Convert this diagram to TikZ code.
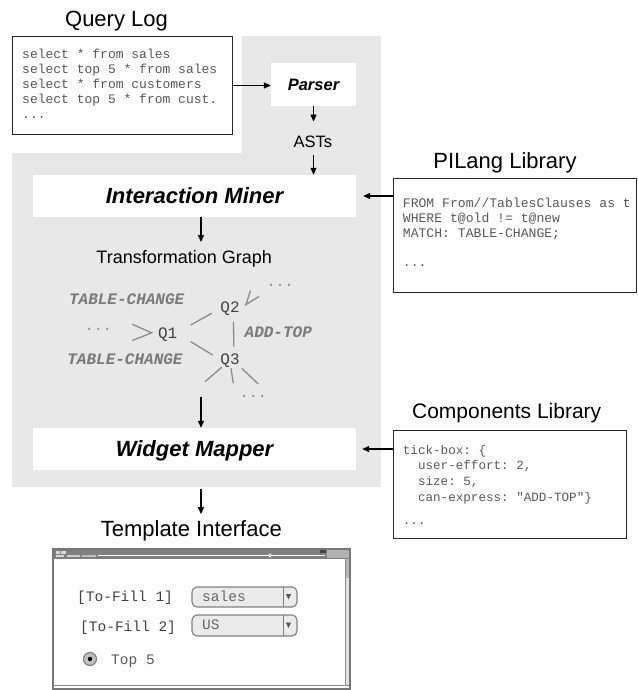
\documentclass[tikz,border=0pt]{standalone}
\usepackage{fontspec}
\setmainfont{Liberation Sans}
\setmonofont{Liberation Mono}
\usetikzlibrary{arrows.meta}
\definecolor{bg}{HTML}{E8E8E8}
\definecolor{codec}{HTML}{585858}
\definecolor{edgec}{HTML}{8C8C8C}
\definecolor{lblc}{HTML}{7A7A7A}
\definecolor{qc}{HTML}{404040}
\definecolor{winc}{HTML}{777777}
\begin{document}
\begin{tikzpicture}[x=1pt,y=-1pt,
  arr/.style={line width=1.3pt,-{Triangle[length=7pt,width=6pt]}},
  title/.style={font=\fontsize{22}{26}\selectfont, inner sep=0pt, anchor=base},
  stage/.style={fill=white, inner sep=0pt, text depth=0pt, font=\fontsize{22}{26}\selectfont\bfseries\itshape},
  codebox/.style={draw=black!85, line width=1pt, fill=white, inner sep=0pt},
  codeA/.style={font=\fontsize{13}{15}\selectfont\ttfamily, text=codec, inner sep=0pt, anchor=base west},
  codeP/.style={font=\fontsize{13.1}{15}\selectfont\ttfamily, text=codec, inner sep=0pt, anchor=base west},
  codeB/.style={font=\fontsize{12.6}{15}\selectfont\ttfamily, text=codec, inner sep=0pt, anchor=base west},
  glbl/.style={font=\fontsize{16}{18}\selectfont\ttfamily\bfseries\itshape, text=lblc, inner sep=0pt, anchor=base},
  gq/.style={font=\fontsize{16}{18}\selectfont\ttfamily, text=qc, inner sep=0pt, anchor=base},
  gdots/.style={font=\fontsize{15}{18}\selectfont\ttfamily, text=edgec, inner sep=0pt, anchor=base},
  gedge/.style={draw=edgec, line width=1.3pt},
  wtext/.style={font=\fontsize{14.5}{17}\selectfont\ttfamily, inner sep=0pt, anchor=base west},
  drop/.style={draw=black!50, fill=black!8, line width=1.1pt, rounded corners=5pt}
]
\useasboundingbox (0,0) rectangle (637,690);

% grey processing area
\fill[bg] (242,36) -- (381,36) -- (381,487) -- (12,487) -- (12,153) -- (242,153) -- cycle;

% titles
\node[title] (qltitle) at (116.5,26.7) {Query Log};
\node[title] (piltitle) at (505,168.3) {PILang Library};
\node[title, font=\fontsize{21}{25}\selectfont] (comptitle) at (506.7,418.3) {Components Library};
\node[title] (ti) at (191.3,536.7) {Template Interface};
\node[title, font=\fontsize{18}{22}\selectfont] (tg) at (184.2,263.3) {Transformation Graph};
\node[title, font=\fontsize{16.5}{20}\selectfont] (asts) at (312.8,147.3) {ASTs};

% query log box
\node[codebox, minimum width=220pt, minimum height=97pt] (qlbox) at (122,85.5) {};
\node[codeA] (ql1) at (22,58.5) {select * from sales};
\node[codeA] (ql2) at (22,73.8) {select top 5 * from sales};
\node[codeA] (ql3) at (22,89.0) {select * from customers};
\node[codeA] (ql4) at (22,104.0) {select top 5 * from cust.};
\node[codeA] (ql5) at (22,118.5) {...};

% PILang box
\node[codebox, minimum width=243.4pt, minimum height=114pt] (pil) at (514.7,235) {};
\node[codeP] (pil1) at (402.7,207.5) {FROM From//TablesClauses as t};
\node[codeP] (pil2) at (402.7,222.5) {WHERE t@old != t@new};
\node[codeP] (pil3) at (402.7,237.5) {MATCH: TABLE-CHANGE;};
\node[codeP] (pil4) at (402.7,266.5) {...};

% Components box
\node[codebox, minimum width=233pt, minimum height=108pt] (comp) at (509.5,484) {};
\node[codeB] (c1) at (402.7,454) {tick-box: \{};
\node[codeB] (c2) at (402.7,469.8) {\ \ user-effort: 2,};
\node[codeB] (c3) at (402.7,485.5) {\ \ size: 5,};
\node[codeB] (c4) at (402.7,501.2) {\ \ can-express: "ADD-TOP"\}};
\node[codeB] (c5) at (402.7,524) {...};

% stages
\node[stage, minimum width=85pt, minimum height=43pt, font=\fontsize{16.5}{20}\selectfont\bfseries\itshape] (parser) at (313.5,84.5) {Parser};
\node[stage, minimum width=323pt, minimum height=42pt] (im) at (194.5,196) {Interaction Miner};
\node[stage, minimum width=323pt, minimum height=42pt] (wm) at (194.5,449) {Widget Mapper};

% transformation graph
\node[glbl] (tc1) at (126.7,304) {TABLE-CHANGE};
\node[glbl] (tc2) at (125,364) {TABLE-CHANGE};
\node[glbl] (addtop) at (278.3,337.3) {ADD-TOP};
\node[gq] (q1) at (167.7,338.3) {Q1};
\node[gq] (q2) at (230,312.5) {Q2};
\node[gq] (q3) at (230,364.5) {Q3};
\node[gdots] (d1) at (98.3,330.5) {...};
\node[gdots] (d2) at (280,286) {...};
\node[gdots] (d3) at (253.3,397) {...};

\coordinate (e12a) at (190.7,325);   \coordinate (e12b) at (211.7,313.3);
\coordinate (e13a) at (190.7,341.7); \coordinate (e13b) at (212.7,355);
\coordinate (e23a) at (233.5,321.7); \coordinate (e23b) at (233.8,346.7);
\coordinate (gt1) at (132.3,324.3); \coordinate (gtm) at (151.7,332.8); \coordinate (gt2) at (132.3,340.5);
\coordinate (v0) at (246,304.5); \coordinate (v1) at (250.5,290.5); \coordinate (v2) at (259,296.5);
\coordinate (l1a) at (221.7,367.3); \coordinate (l1b) at (205,381.7);
\coordinate (l2a) at (231,368.3); \coordinate (l2b) at (233.3,383.3);
\coordinate (l3a) at (241.7,368.3); \coordinate (l3b) at (258.3,384);
\draw[gedge] (e12a) -- (e12b);
\draw[gedge] (e13a) -- (e13b);
\draw[gedge] (e23a) -- (e23b);
\draw[gedge] (gt1) -- (gtm) -- (gt2);
\draw[gedge] (v1) -- (v0) -- (v2);
\draw[gedge] (l1a) -- (l1b);
\draw[gedge] (l2a) -- (l2b);
\draw[gedge] (l3a) -- (l3b);

% main arrows
\coordinate (ax) at (201,0);
\coordinate (gout) at (201,397);
\coordinate (wmout) at (201,489);
\draw[arr] (qlbox.east) -- (qlbox.east -| parser.west);
\draw[arr, shorten >=14pt] (parser.south) -- (parser.south |- asts.north);
\draw[arr, shorten <=7pt] (parser.south |- asts.south) -- (parser.south |- im.north);
\draw[arr, shorten >=8pt] (ax |- im.south) -- (ax |- tg.north);
\draw[arr] (gout) -- (gout |- wm.north);
\draw[arr, shorten >=6.5pt] (wmout) -- (wmout |- ti.north);
\draw[arr, shorten >=7pt] (im.east -| pil.west) -- (im.east);
\draw[arr, shorten >=6pt] (wm.east -| comp.west) -- (wm.east);

% template interface window
\fill[white] (53,549) rectangle (350,689);
\fill[black!50] (53,549) rectangle (350,559);
\fill[black!30] (327,550) rectangle (349,558);
\fill[black!75] (320,550) rectangle (326,552.5);
\fill[black!15] (56,551) rectangle (60,553.5);
\fill[black!15] (61,551) rectangle (66,553.5);
\fill[black!15] (56,555) rectangle (64,557);
\fill[black!20] (67,555) rectangle (80,557);
\fill[black!25] (82,555) rectangle (96,557);
\fill[white] (98,554.6) rectangle (268,556.4);
\draw[white, line width=0.8pt] (270,555.5) circle [radius=1.5];
\fill[white] (272,554.6) rectangle (325,556.4);
\draw[black!45, line width=1pt] (345,559) -- (345,685);
\fill[black!12] (345.5,559) rectangle (349.5,685);
\fill[black!28] (345.5,559) rectangle (349.5,578);
\draw[black!45, line width=1pt] (53,685) -- (350,685);
\draw[winc, line width=1.6pt] (53,549) rectangle (350,689);

\draw[drop] (192,587) rectangle (297,607);
\draw[black!50, line width=1pt] (283,587) -- (283,607);
\fill[black!65] (285.8,594) -- (291.2,594) -- (288.5,599.5) -- cycle;
\draw[drop] (192,615) rectangle (297,636);
\draw[black!50, line width=1pt] (283,615) -- (283,636);
\fill[black!65] (285.8,622.5) -- (291.2,622.5) -- (288.5,628) -- cycle;

\node[wtext, text=black!75] (tf1) at (77,601.7) {[To-Fill 1]};
\node[wtext, text=black!75] (tf2) at (80,631.7) {[To-Fill 2]};
\node[wtext, text=black!60] (dd1) at (202,601) {sales};
\node[wtext, text=black!60] (dd2) at (202,629.5) {US};
\draw[black!50, fill=black!25, line width=1.2pt] (90,659) circle [radius=6.5];
\fill[black] (90,659) circle [radius=2.2];
\node[wtext, text=black!65] (top5) at (111,664) {Top 5};
\end{tikzpicture}
\end{document}
